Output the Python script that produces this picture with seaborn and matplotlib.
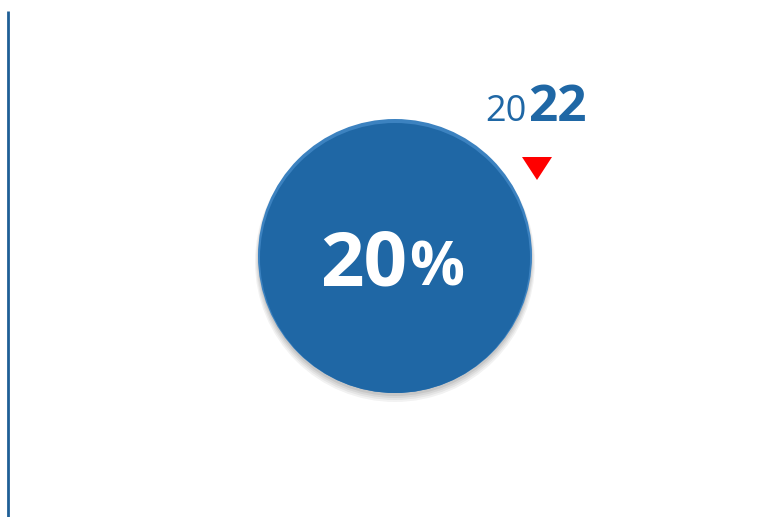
import matplotlib.pyplot as plt
from matplotlib.patches import Circle, Polygon
import seaborn as sns

# data
share_value = 20
share_unit = '%'
year_prefix = '20'
year_suffix = '22'
trend = ['down']

sns.set_theme(style="white")
plt.rcParams['font.family'] = ['Open Sans', 'DejaVu Sans']

fig = plt.figure(figsize=(7.77, 5.17), dpi=100)
ax = fig.add_axes([0, 0, 1, 1])
ax.set_xlim(0, 777)
ax.set_ylim(517, 0)
ax.axis('off')

blue = '#1f67a5'

# left rule
ax.plot([8, 8], [11, 517], color='#1f5f96', linewidth=2, solid_capstyle='butt')

# circle with soft shadow
cx, cy, r = 395, 256, 137
for i, a in enumerate([0.05, 0.05, 0.06, 0.07]):
    ax.add_patch(Circle((cx, cy + 6 - i), r + 3 - i, color='black', alpha=a, lw=0))
ax.add_patch(Circle((cx, cy), r, color='#3c82c0', lw=0))
ax.add_patch(Circle((cx, cy + 2), r - 2, color=blue, lw=0))

# value label
ax.text(407, 286, str(share_value), color='white', fontsize=55, fontweight='bold',
        ha='right', va='baseline')
ax.text(409, 286, share_unit, color='white', fontsize=44, fontweight='bold',
        ha='left', va='baseline')

# year label
ax.text(527, 121, year_prefix, color=blue, fontsize=26, ha='right', va='baseline')
ax.text(528, 121, year_suffix, color=blue, fontsize=37, fontweight='bold',
        ha='left', va='baseline')

# trend marker
if trend[0] == 'down':
    ax.add_patch(Polygon([[522, 157], [552, 157], [537, 180]], closed=True,
                         color='#ff0000', lw=0))

fig.savefig('out.png', dpi=100)
